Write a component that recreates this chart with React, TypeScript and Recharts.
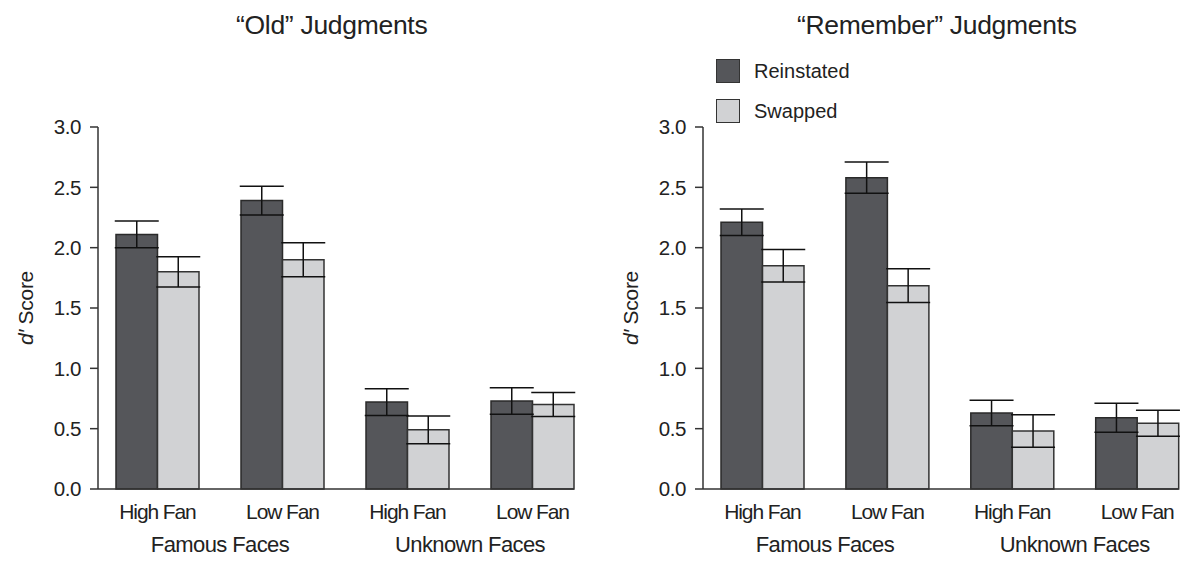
import { Bar, BarChart, ErrorBar, Legend, XAxis, YAxis } from "recharts";

const conditions = ["High Fan", "Low Fan", "High Fan", "Low Fan"];
const faceGroups = ["Famous Faces", "Unknown Faces"];
const groupTicks = [1, 3];
const yTicks = [0, 0.5, 1, 1.5, 2, 2.5, 3];

const oldReinstated = [2.11, 2.39, 0.72, 0.73];
const oldReinstatedErr = [0.11, 0.12, 0.11, 0.11];
const oldSwapped = [1.8, 1.9, 0.49, 0.7];
const oldSwappedErr = [0.125, 0.14, 0.115, 0.1];

const remReinstated = [2.21, 2.58, 0.63, 0.59];
const remReinstatedErr = [0.11, 0.13, 0.105, 0.12];
const remSwapped = [1.85, 1.685, 0.48, 0.545];
const remSwappedErr = [0.135, 0.14, 0.135, 0.107];

const FONT = "'Liberation Sans Narrow', 'Arial Narrow', 'Liberation Sans', sans-serif";
const INK = "#222";
const DARK = "#55565a";
const LIGHT = "#d1d2d4";

function rows(re: number[], reErr: number[], sw: number[], swErr: number[]) {
  return conditions.map((c, i) => ({
    fan: c,
    slot: i + 0.5,
    reinstated: re[i],
    reinstatedErr: reErr[i],
    swapped: sw[i],
    swappedErr: swErr[i],
  }));
}

function YLabel(props: any) {
  const vb = props.viewBox || {};
  const cy = vb.y + vb.height / 2;
  const x = 33;
  return (
    <text
      x={x}
      y={cy}
      transform={`rotate(-90 ${x} ${cy})`}
      textAnchor="middle"
      fill={INK}
      fontSize={21}
      fontFamily={FONT}
      letterSpacing={-0.3}
    >
      <tspan fontStyle="italic">d′</tspan> Score
    </text>
  );
}

function LegendBox(props: any) {
  const items = props.payload || [];
  return (
    <div style={{ fontFamily: FONT, fontSize: 20, color: INK }}>
      {items.map((it: any) => (
        <div key={it.value} style={{ display: "flex", alignItems: "center", height: 40 }}>
          <span
            style={{
              width: 22,
              height: 22,
              background: it.color,
              border: "1.5px solid #333",
              marginRight: 14,
              display: "inline-block",
            }}
          />
          {it.value}
        </div>
      ))}
    </div>
  );
}

function Panel({ data, width, right, legend }: { data: any[]; width: number; right: number; legend?: boolean }) {
  return (
    <BarChart
      width={width}
      height={561}
      data={data}
      margin={{ top: 127, right, bottom: 7, left: 0 }}
      barGap={0}
      barSize={41.5}
    >
      <YAxis
        domain={[0, 3]}
        ticks={yTicks}
        tickFormatter={(v: number) => v.toFixed(1)}
        width={98}
        tickSize={8}
        tickMargin={9}
        axisLine={{ stroke: "#333", strokeWidth: 1.5 }}
        tickLine={{ stroke: "#333", strokeWidth: 1.5 }}
        tick={{ fill: INK, fontSize: 20.5, fontFamily: FONT, letterSpacing: -0.4 }}
        label={<YLabel />}
      />
      <XAxis
        dataKey="fan"
        height={30}
        padding={{ left: -3, right: -21 }}
        tickSize={6}
        tickMargin={9}
        tickLine={false}
        axisLine={{ stroke: "#333", strokeWidth: 1.5 }}
        tick={{ fill: INK, fontSize: 21, fontFamily: FONT, letterSpacing: -1.1 }}
        interval={0}
      />
      <XAxis
        xAxisId="group"
        dataKey="slot"
        type="number"
        domain={[0, 4]}
        allowDataOverflow
        ticks={groupTicks}
        tickFormatter={(v: number) => faceGroups[groupTicks.indexOf(v)]}
        height={35}
        padding={{ left: -3, right: -21 }}
        tickSize={0}
        tickMargin={17}
        tickLine={false}
        axisLine={false}
        tick={{ fill: INK, fontSize: 22, fontFamily: FONT, letterSpacing: -0.6 }}
      />
      {legend && (
        <Legend
          layout="vertical"
          align="center"
          verticalAlign="middle"
          content={<LegendBox />}
          wrapperStyle={{ left: 111, top: 51, width: 200 }}
        />
      )}
      <Bar dataKey="reinstated" name="Reinstated" fill={DARK} stroke="#2a2a2a" strokeWidth={1.5} isAnimationActive={false}>
        <ErrorBar dataKey="reinstatedErr" width={22} stroke="#111" strokeWidth={1.5} />
      </Bar>
      <Bar dataKey="swapped" name="Swapped" fill={LIGHT} stroke="#333" strokeWidth={1.5} isAnimationActive={false}>
        <ErrorBar dataKey="swappedErr" width={22} stroke="#111" strokeWidth={1.5} />
      </Bar>
    </BarChart>
  );
}

const titleStyle: React.CSSProperties = {
  position: "absolute",
  top: 12,
  fontFamily: FONT,
  fontSize: 26.5,
  lineHeight: 1,
  color: INK,
  whiteSpace: "nowrap",
  letterSpacing: -0.3,
};

export default function App() {
  const oldData = rows(oldReinstated, oldReinstatedErr, oldSwapped, oldSwappedErr);
  const remData = rows(remReinstated, remReinstatedErr, remSwapped, remSwappedErr);
  return (
    <div style={{ position: "absolute", left: 0, top: 0, width: 1181, height: 561, background: "#fff" }}>
      <div style={{ position: "absolute", left: 0, top: 0 }}>
        <Panel data={oldData} width={600} right={26} />
      </div>
      <div style={{ position: "absolute", left: 605, top: 0 }}>
        <Panel data={remData} width={576} right={2.4} legend />
      </div>
      <div style={{ ...titleStyle, left: 236 }}>“Old” Judgments</div>
      <div style={{ ...titleStyle, left: 797 }}>“Remember” Judgments</div>
    </div>
  );
}
